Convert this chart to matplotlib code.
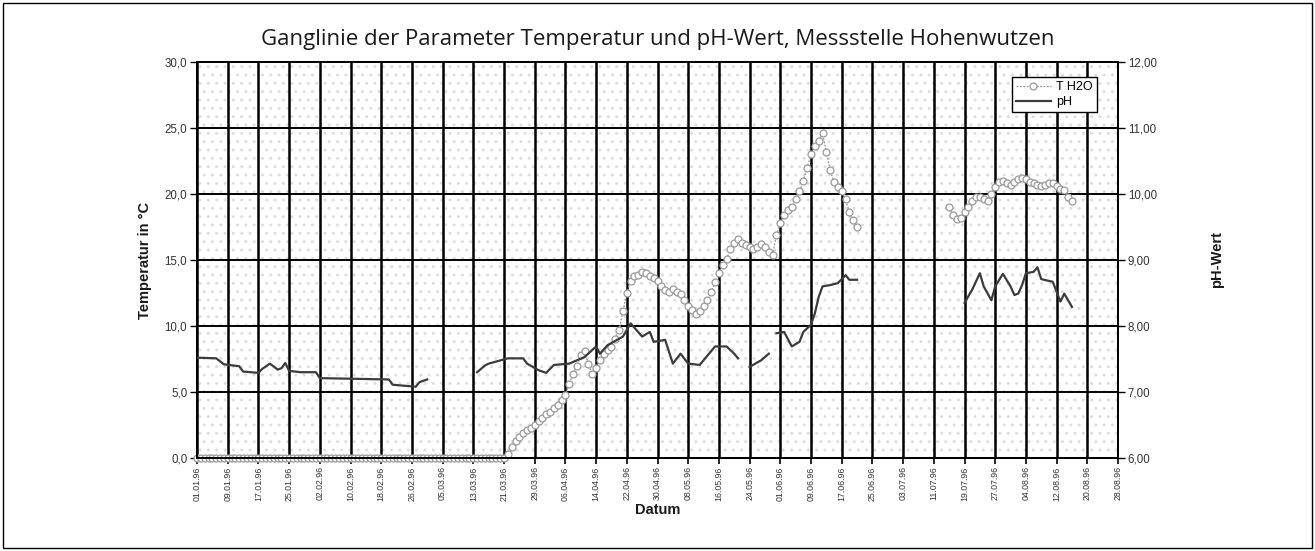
import numpy as np
import matplotlib
matplotlib.use("Agg")
import matplotlib.pyplot as plt
import matplotlib.dates as mdates
from matplotlib.patches import Rectangle

t0 = np.datetime64("1996-01-01")

# Wassertemperatur in °C, Tageswerte (Tag 0 = 01.01.96)
temp_a_start = 0
temp_a = [
    0.0, 0.0, 0.0, 0.0, 0.0, 0.0, 0.0, 0.0, 0.0, 0.0,
    0.0, 0.0, 0.0, 0.0, 0.0, 0.0, 0.0, 0.0, 0.0, 0.0,
    0.0, 0.0, 0.0, 0.0, 0.0, 0.0, 0.0, 0.0, 0.0, 0.0,
    0.0, 0.0, 0.0, 0.0, 0.0, 0.0, 0.0, 0.0, 0.0, 0.0,
    0.0, 0.0, 0.0, 0.0, 0.0, 0.0, 0.0, 0.0, 0.0, 0.0,
    0.0, 0.0, 0.0, 0.0, 0.0, 0.0, 0.0, 0.0, 0.0, 0.0,
    0.0, 0.0, 0.0, 0.0, 0.0, 0.0, 0.0, 0.0, 0.0, 0.0,
    0.0, 0.0, 0.0, 0.0, 0.0, 0.0, 0.0, 0.0, 0.0, 0.0,
    0.0, 0.3, 0.8, 1.3, 1.6, 1.9, 2.1, 2.3, 2.5, 2.8,
    3.0, 3.3, 3.5, 3.8, 4.0, 4.4, 4.8, 5.6, 6.4, 7.0,
    7.8, 8.1, 7.1, 6.4, 6.8, 7.4, 7.9, 8.2, 8.4, 9.0,
    9.7, 11.1, 12.5, 13.4, 13.8, 13.9, 14.1, 14.0, 13.8, 13.6,
    13.4, 13.0, 12.7, 12.6, 12.8, 12.6, 12.4, 12.0, 11.5, 11.2,
    10.9, 11.1, 11.5, 12.0, 12.6, 13.3, 14.0, 14.6, 15.1, 15.8,
    16.3, 16.6, 16.3, 16.1, 16.0, 15.8, 16.0, 16.2, 16.0, 15.6,
    15.4, 16.9, 17.8, 18.4, 18.8, 19.0, 19.6, 20.2, 21.0, 22.0,
    23.0, 23.6, 24.0, 24.6, 23.2, 21.8, 20.9, 20.5, 20.2, 19.6,
    18.6, 18.0, 17.5,
]
temp_b_start = 196
temp_b = [
    19.0, 18.4, 18.1, 18.2, 18.6, 19.0, 19.5, 19.8, 19.8, 19.6,
    19.5, 20.0, 20.5, 20.9, 21.0, 20.8, 20.7, 20.9, 21.1, 21.2,
    21.1, 20.9, 20.8, 20.7, 20.6, 20.7, 20.8, 20.8, 20.6, 20.4,
    20.3, 19.8, 19.5,
]

# pH-Wert, Messtage seit 01.01.96
ph_days_1 = [0, 5, 7, 11, 12, 16, 17, 19, 21, 22, 23, 24, 27, 31, 32, 50, 51, 57, 58, 60]
ph_vals_1 = [7.52, 7.51, 7.42, 7.39, 7.31, 7.29, 7.35, 7.43, 7.34, 7.36,
             7.44, 7.32, 7.30, 7.30, 7.21, 7.19, 7.11, 7.08, 7.15, 7.19]
ph_days_2 = [73, 75, 76, 81, 85, 86, 89, 91, 93, 97, 99, 101, 104, 105, 107,
             111, 113, 116, 118, 119, 122, 124, 126, 128, 131, 135, 138, 140, 141]
ph_vals_2 = [7.30, 7.40, 7.43, 7.51, 7.51, 7.43, 7.33, 7.29, 7.41, 7.43, 7.48,
             7.53, 7.69, 7.58, 7.71, 7.84, 8.04, 7.84, 7.91, 7.76, 7.79, 7.43,
             7.58, 7.43, 7.41, 7.69, 7.69, 7.58, 7.51]
ph_days_3 = [144, 147, 149]
ph_vals_3 = [7.38, 7.48, 7.58]
ph_days_4 = [151, 153, 155, 157, 158, 160, 161, 162, 163, 165, 167, 169, 170, 172]
ph_vals_4 = [7.89, 7.91, 7.69, 7.76, 7.91, 8.02, 8.19, 8.44, 8.60, 8.62,
             8.65, 8.77, 8.70, 8.70]
ph_days_5 = [200, 202, 204, 205, 207, 208, 210, 212, 213, 214, 215, 216,
             218, 219, 220, 223, 224, 225, 226, 228]
ph_vals_5 = [8.35, 8.55, 8.80, 8.60, 8.39, 8.60, 8.79, 8.60, 8.47, 8.49,
             8.62, 8.80, 8.82, 8.89, 8.71, 8.67, 8.52, 8.37, 8.49, 8.29]

temp_ticks = [0, 5, 10, 15, 20, 25, 30]
temp_labels = ["0,0", "5,0", "10,0", "15,0", "20,0", "25,0", "30,0"]
ph_ticks = [6, 7, 8, 9, 10, 11, 12]
ph_labels = ["6,00", "7,00", "8,00", "9,00", "10,00", "11,00", "12,00"]


def to_dates(start, n):
    return t0 + (start + np.arange(n)).astype("timedelta64[D]")


def day_dates(days):
    return t0 + np.array(days).astype("timedelta64[D]")


W, H = 1315, 551
fig = plt.figure(figsize=(W / 100, H / 100), dpi=100)
ax = fig.add_axes([197 / W, 1 - 458 / H, (1118 - 197) / W, (458 - 62) / H])
ax2 = ax.twinx()

# gepunkteter Hintergrund der Zeichenfläche
bg = Rectangle((0, 0), 1, 1, transform=ax.transAxes, facecolor="white",
               edgecolor="#dedede", hatch="..", linewidth=0, zorder=0)
ax.add_patch(bg)

tick_dates = np.arange(t0, np.datetime64("1996-08-29"), 8)
ax.set_xlim(t0, np.datetime64("1996-08-28"))
ax.set_ylim(0, 30)
ax2.set_ylim(6, 12)

ax.set_xticks(tick_dates)
ax.xaxis.set_major_formatter(mdates.DateFormatter("%d.%m.%y"))
ax.set_yticks(temp_ticks)
ax.set_yticklabels(temp_labels)
ax2.set_yticks(ph_ticks)
ax2.set_yticklabels(ph_labels)

for d in tick_dates:
    ax.axvline(d, color="black", lw=1.8, zorder=1)
for v in temp_ticks[1:-1]:
    ax.axhline(v, color="black", lw=1.4, zorder=1)

grey = "#999999"
t_style = dict(color=grey, ls=(0, (1.5, 1.2)), lw=0.9, marker="o", ms=5.0,
               mfc="white", mec=grey, mew=0.9, zorder=3, clip_on=False)
l_temp, = ax.plot(to_dates(temp_a_start, len(temp_a)), temp_a, label="T H2O", **t_style)
ax.plot(to_dates(temp_b_start, len(temp_b)), temp_b, **t_style)

ph_color = "#3c3c3c"
l_ph = None
for days, vals in [(ph_days_1, ph_vals_1), (ph_days_2, ph_vals_2), (ph_days_3, ph_vals_3),
                   (ph_days_4, ph_vals_4), (ph_days_5, ph_vals_5)]:
    ln, = ax2.plot(day_dates(days), vals, color=ph_color, lw=1.6, zorder=4)
    if l_ph is None:
        l_ph = ln
l_ph.set_label("pH")

for a in (ax, ax2):
    for s in a.spines.values():
        s.set_color("black")
        s.set_linewidth(1.4)
ax.tick_params(axis="x", direction="out", length=4, width=1.2, labelsize=6.3,
               labelcolor="#333333", rotation=90, pad=2)
ax.tick_params(axis="y", direction="out", length=5, width=1.0, labelsize=8.3,
               labelcolor="#333333", pad=2)
ax2.tick_params(axis="y", direction="out", length=5, width=1.0, labelsize=8.3,
                labelcolor="#333333", pad=2)

lab = dict(family="Liberation Sans", fontweight="bold", fontsize=10.5, color="#1a1a1a")
ax.set_ylabel("Temperatur in °C", labelpad=9, **lab)
ax2.set_ylabel("pH-Wert", labelpad=38, **lab)
ax.set_xlabel("Datum", labelpad=2, **lab)

leg = ax2.legend(handles=[l_temp, l_ph], loc="upper right",
                 bbox_to_anchor=((1097 - 197) / 921, (458 - 77) / 396),
                 borderaxespad=0, fancybox=False, framealpha=1, edgecolor="black",
                 handlelength=2.8, labelspacing=0.2, borderpad=0.35,
                 handletextpad=0.4, prop={"family": "Liberation Sans", "size": 9})
leg.get_frame().set_linewidth(1.0)

fig.text(0.5, 1 - 40 / H, "Ganglinie der Parameter Temperatur und pH-Wert, Messstelle Hohenwutzen",
         ha="center", va="center", fontsize=16, family="Open Sans", color="#1a1a1a")

fig.patches.append(Rectangle((3 / W, 3 / H), (W - 6) / W, (H - 6) / H, transform=fig.transFigure,
                             fill=False, edgecolor="black", lw=1.0))

for t in ax.get_xticklabels() + ax.get_yticklabels() + ax2.get_yticklabels():
    t.set_family("Liberation Sans")

fig.savefig("out.png", dpi=100)
